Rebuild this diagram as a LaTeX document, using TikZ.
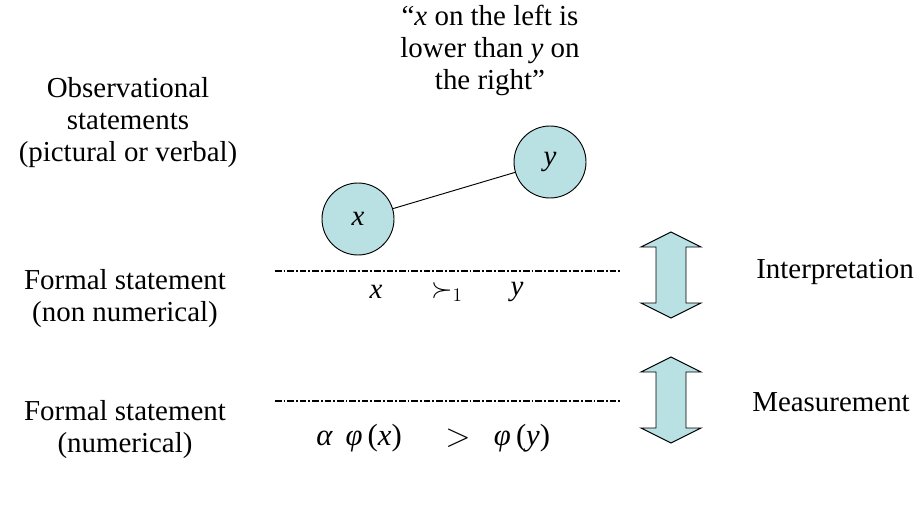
\documentclass[tikz,border=0pt]{standalone}
\usepackage{fontspec}
\setmainfont{Liberation Serif}
\begin{document}
\begin{tikzpicture}[x=0.75pt,y=-0.75pt,
  lbl/.style={align=center,font=\fontsize{21.7}{24}\selectfont,inner sep=0pt},
  rlbl/.style={anchor=west,font=\fontsize{21.7}{24}\selectfont,inner sep=0pt},
  mth/.style={font=\fontsize{21.7}{24}\selectfont,inner sep=0pt},
  eqn/.style={font=\fontsize{23}{24}\selectfont,inner sep=0pt},
  ball/.style={circle,draw=black,minimum size=54pt,inner sep=0pt,line width=0.7pt,font=\fontsize{21.7}{24}\selectfont},
  sep/.style={line width=1pt,dash pattern=on 5pt off 1.5pt on 1.3pt off 1.5pt},
  darrow/.style={draw=black,line width=0.7pt,line join=miter}
]
\useasboundingbox (0,0) rectangle (923,520);
\definecolor{ballc}{RGB}{185,224,227}
% top quote
\node[lbl] (quote) at (490,50) {“\textit{x} on the left is\\lower than \textit{y} on\\the right”};
% left labels
\node[lbl] (obs) at (128,123) {Observational\\statements\\(pictural or verbal)};
\node[lbl] (fnn) at (125,299) {Formal statement\\(non numerical)};
\node[lbl] (fn) at (125,430) {Formal statement\\(numerical)};
% right labels
\node[rlbl] (interp) at (756,272) {Interpretation};
\node[rlbl] (meas) at (752,402) {Measurement};
% balls
\node[ball,fill=ballc] (bx) at (358,219) {\textit{x}};
\node[ball,fill=ballc] (by) at (550,162) {\textit{y}};
\draw[line width=0.7pt] (bx) -- (by);
% separators
\coordinate (s1a) at (275,271); \coordinate (s1b) at (622,271);
\coordinate (s2a) at (275,401); \coordinate (s2b) at (622,401);
\draw[sep] (s1a) -- (s1b);
\draw[sep] (s2a) -- (s2b);
% middle formal statements
\node[mth] (fx) at (376,292) {\textit{x}};
\node[mth] (fs) at (447,292) {$\succ_1$};
\node[mth] (fy) at (517,292) {\textit{y}};
\node[eqn] (pa) at (359,438) {\textit{α}\, \textit{φ}\,(\textit{x})};
\node[eqn] (pg) at (458,438) {$>$};
\node[eqn] (pb) at (522,438) {\textit{φ}\,(\textit{y})};
% double arrows
\foreach \t/\b/\n in {232/318/a1,357/443/a2}{
  \draw[darrow,fill=ballc] (671,\t) -- (701,\t+15) -- (686,\t+15) -- (686,\b-15) -- (701,\b-15)
    -- (671,\b) -- (641,\b-15) -- (656,\b-15) -- (656,\t+15) -- (641,\t+15) -- cycle;
}
\end{tikzpicture}
\end{document}
